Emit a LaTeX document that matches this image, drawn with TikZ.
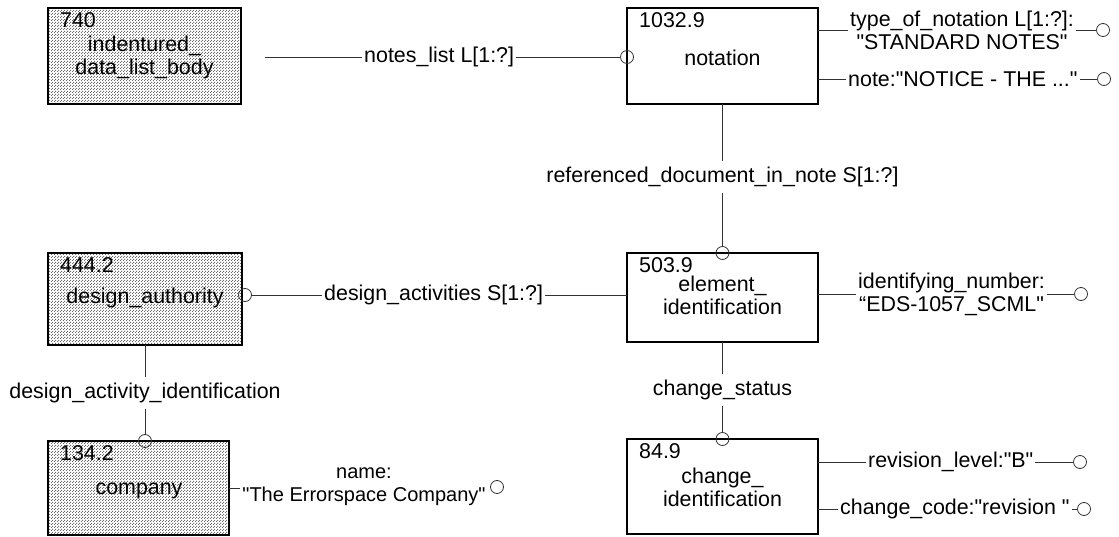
\documentclass[tikz,border=0pt]{standalone}
\usepackage{fontspec}
\newfontfamily\lsans{Liberation Sans}
\usetikzlibrary{patterns,calc}
\pgfdeclarepatternformonly{finedots}{\pgfqpoint{0pt}{0pt}}{\pgfqpoint{3pt}{3pt}}{\pgfqpoint{3pt}{3pt}}{%
  \pgfpathrectangle{\pgfqpoint{0pt}{0pt}}{\pgfqpoint{1.3pt}{1.3pt}}%
  \pgfpathrectangle{\pgfqpoint{1.5pt}{1.5pt}}{\pgfqpoint{1.3pt}{1.3pt}}%
  \pgfusepath{fill}}
\newcommand\dfont{\lsans\fontsize{21.4}{23}\selectfont}
\newcommand\nfont{\lsans\fontsize{20}{23}\selectfont}
\begin{document}
\begin{tikzpicture}[x=1pt,y=-1pt, font=\dfont,
  box/.style={draw=black, line width=2.5pt, anchor=north west, inner sep=0pt, outer sep=0pt},
  dotbox/.style={box, pattern=finedots, pattern color=black!58},
  num/.style={anchor=base west, inner sep=0pt},
  txt/.style={align=center, inner sep=0pt},
  lab/.style={inner xsep=2pt, inner ysep=6pt},
  conn/.style={draw=black!80, line width=0.9pt},
  circ/.style={circle, draw=black!80, line width=0.8pt, minimum size=13pt, inner sep=0pt}]
\useasboundingbox (0,0) rectangle (1119,537);

% boxes
\node[dotbox, minimum width=193pt, minimum height=96pt] (b740) at (48,8) {};
\node[box, minimum width=191pt, minimum height=96pt] (bnot) at (627,8) {};
\node[dotbox, minimum width=194pt, minimum height=92pt] (bda) at (48,253) {};
\node[box, minimum width=191pt, minimum height=89pt] (bel) at (627,253) {};
\node[dotbox, minimum width=181pt, minimum height=94pt] (bco) at (48,441) {};
\node[box, minimum width=191pt, minimum height=95pt] (bch) at (627,439) {};

% box numbers
\node[num] (n740) at ($(b740.north west)+(12,19.5)$) {740};
\node[num] (nnot) at ($(bnot.north west)+(12,19.5)$) {1032.9};
\node[num] (nda) at ($(bda.north west)+(12,19.5)$) {444.2};
\node[num] (nel) at ($(bel.north west)+(12,19.5)$) {503.9};
\node[num] (nco) at ($(bco.north west)+(12,19.5)$) {134.2};
\node[num] (nch) at ($(bch.north west)+(12,19.5)$) {84.9};

% box names
\node[txt] (t740) at (144.5,57.5) {indentured\_\\data\_list\_body};
\node[txt] (tnot) at (722.5,57.5) {notation};
\node[txt] (tda) at (145,297.5) {design\_authority};
\node[txt] (tel) at (722.5,295) {element\_\\identification};
\node[txt] (tco) at (139,491) {company};
\node[txt] (tch) at (722.5,487) {change\_\\identification};

% notes_list
\coordinate (nlstart) at (265,57);
\node[lab, anchor=west] (nl) at (362,57) {notes\_list L[1:?]};
\node[circ] (cnl) at (627,57) {};
\draw[conn] (nlstart) -- (nl.west);
\draw[conn] (nl.east) -- (cnl);

% type_of_notation
\node[lab, anchor=west, align=center] (ton) at (848,30) {type\_of\_notation L[1:?]:\\"STANDARD NOTES"};
\node[circ] (cton) at (1103,30) {};
\draw[conn] (bnot.east |- ton.west) -- (ton.west);
\draw[conn] (ton.east) -- (cton);

% note
\node[lab, anchor=west] (nte) at (846,79) {note:"NOTICE - THE ..."};
\node[circ] (cnte) at (1104,79) {};
\draw[conn] (bnot.east |- nte.west) -- (nte.west);
\draw[conn] (nte.east) -- (cnte);

% referenced_document_in_note
\node[lab] (rdn) at (722.5,177) {referenced\_document\_in\_note S[1:?]};
\node[circ] (crdn) at (bel.north) {};
\draw[conn] (bnot.south) -- (rdn.north);
\draw[conn] (rdn.south) -- (crdn);

% design_activities
\node[lab, anchor=west] (dac) at (322,295) {design\_activities S[1:?]};
\node[circ] (cdac) at ([xshift=3pt]bda.east |- dac.west) {};
\draw[conn] (cdac) -- (dac.west);
\draw[conn] (dac.east) -- (bel.west |- dac.east);

% identifying_number
\node[lab, anchor=west, align=center] (idn) at (856,294) {identifying\_number:\\“EDS-1057\_SCML"};
\node[circ] (cidn) at (1081,294) {};
\draw[conn] (bel.east |- idn.west) -- (idn.west);
\draw[conn] (idn.east) -- (cidn);

% design_activity_identification
\node[lab] (dai) at (145,393) {design\_activity\_identification};
\node[circ] (cdai) at (dai |- bco.north) {};
\draw[conn] (bda.south) -- (dai.north);
\draw[conn] (dai.south) -- (cdai);

% change_status
\node[lab] (chs) at (722.5,390) {change\_status};
\node[circ] (cchs) at (bch.north) {};
\draw[conn] (bel.south) -- (chs.north);
\draw[conn] (chs.south) -- (cchs);

% revision_level
\node[lab, anchor=west] (rvl) at (866,462) {revision\_level:"B"};
\node[circ] (crvl) at (1080,462) {};
\draw[conn] (bch.east |- rvl.west) -- (rvl.west);
\draw[conn] (rvl.east) -- (crvl);

% change_code
\node[lab, anchor=west] (chc) at (838,509) {change\_code:"revision "};
\node[circ] (cchc) at (1084,509) {};
\draw[conn] (bch.east |- chc.west) -- (chc.west);
\draw[conn] (chc.east) -- (cchc);

% name
\coordinate (nmstub) at (240,488);
\node[lab, align=center, font=\nfont] (nm) at (364,487) {name:\\"The Errorspace Company"};
\node[circ] (cnm) at (497,487) {};
\draw[conn] (bco.east |- nmstub) -- (nmstub);
\end{tikzpicture}
\end{document}
